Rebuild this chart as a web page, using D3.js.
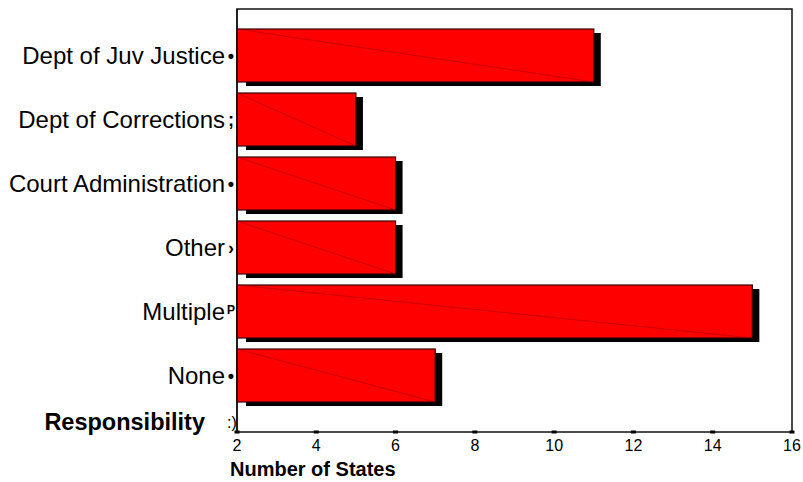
<!DOCTYPE html>
<html><head><meta charset="utf-8">
<script src="https://cdn.jsdelivr.net/npm/d3@7"></script>
<style>body{margin:0;background:#fff}svg{display:block}text{font-family:Arial,"Liberation Sans",sans-serif}</style>
</head><body>
<script>
const categories = ["Dept of Juv Justice","Dept of Corrections","Court Administration","Other","Multiple","None"];
const values = [11, 5, 6, 6, 15, 7];
const xTicks = [2,4,6,8,10,12,14,16];
const markGlyphs = ["\u2022",";","\u2022","\u203A","\u1D3E","\u2022"];

const W=803,H=482;
const svg=d3.select("body").append("svg").attr("width",W).attr("height",H);
const L=237,R=792,T=9,B=432;
const x=d3.scaleLinear().domain([2,16]).range([L,R]);
const y=d3.scaleBand().domain(categories).range([23.5,407.5]).paddingInner(0.172).paddingOuter(0.086);

// frame
svg.append("rect").attr("x",L).attr("y",T).attr("width",R-L).attr("height",B-T)
  .attr("fill","none").attr("stroke","#111").attr("stroke-width",1.5);

// shadows
svg.selectAll(".sh").data(categories).join("rect").attr("class","sh")
  .attr("x",d=>x(2)+9).attr("y",d=>y(d)+4)
  .attr("width",(d,i)=>x(values[i])-x(2)-2).attr("height",y.bandwidth())
  .attr("fill","#000");
// bars
svg.selectAll(".bar").data(categories).join("rect").attr("class","bar")
  .attr("x",x(2)).attr("y",d=>y(d))
  .attr("width",(d,i)=>x(values[i])-x(2)).attr("height",y.bandwidth())
  .attr("fill","#ff0000").attr("stroke","#300").attr("stroke-width",1.2);
// diagonals
svg.selectAll(".dg").data(categories).join("line").attr("class","dg")
  .attr("x1",x(2)).attr("y1",d=>y(d))
  .attr("x2",(d,i)=>x(values[i])).attr("y2",d=>y(d)+y.bandwidth())
  .attr("stroke","#a00000").attr("stroke-width",0.7).attr("opacity",0.8);

// left axis line redraw
svg.append("line").attr("x1",L).attr("x2",L).attr("y1",T).attr("y2",B).attr("stroke","#111").attr("stroke-width",1.5);

// category labels
svg.selectAll(".lab").data(categories).join("text").attr("class","lab")
  .attr("x",225).attr("y",d=>y(d)+y.bandwidth()/2).attr("dy","0.35em")
  .attr("text-anchor","end").attr("font-size",24).attr("fill","#000").text(d=>d);
svg.selectAll(".mk").data(categories).join("text").attr("class","mk")
  .attr("x",231).attr("y",d=>y(d)+y.bandwidth()/2).attr("dy","0.35em")
  .attr("text-anchor","middle").attr("font-size",18).attr("font-weight","bold").attr("fill","#000")
  .text((d,i)=>markGlyphs[i]);

// Responsibility label
svg.append("text").attr("x",205).attr("y",422).attr("dy","0.35em").attr("text-anchor","end")
  .attr("font-size",23.5).attr("font-weight","bold").text("Responsibility");
svg.append("text").attr("x",232).attr("y",422).attr("dy","0.35em").attr("text-anchor","middle")
  .attr("font-size",16).text(":)");

// x ticks
svg.selectAll(".tk").data(xTicks).join("rect").attr("class","tk")
  .attr("x",d=>x(d)-2.5).attr("y",B-1.5).attr("width",5).attr("height",3).attr("fill","#000");
svg.selectAll(".tl").data(xTicks).join("text").attr("class","tl")
  .attr("x",d=>x(d)).attr("y",451).attr("text-anchor","middle").attr("font-size",16).text(d=>d);

svg.append("text").attr("x",230).attr("y",476).attr("font-size",20).attr("font-weight","bold").text("Number of States");
</script>
</body></html>
